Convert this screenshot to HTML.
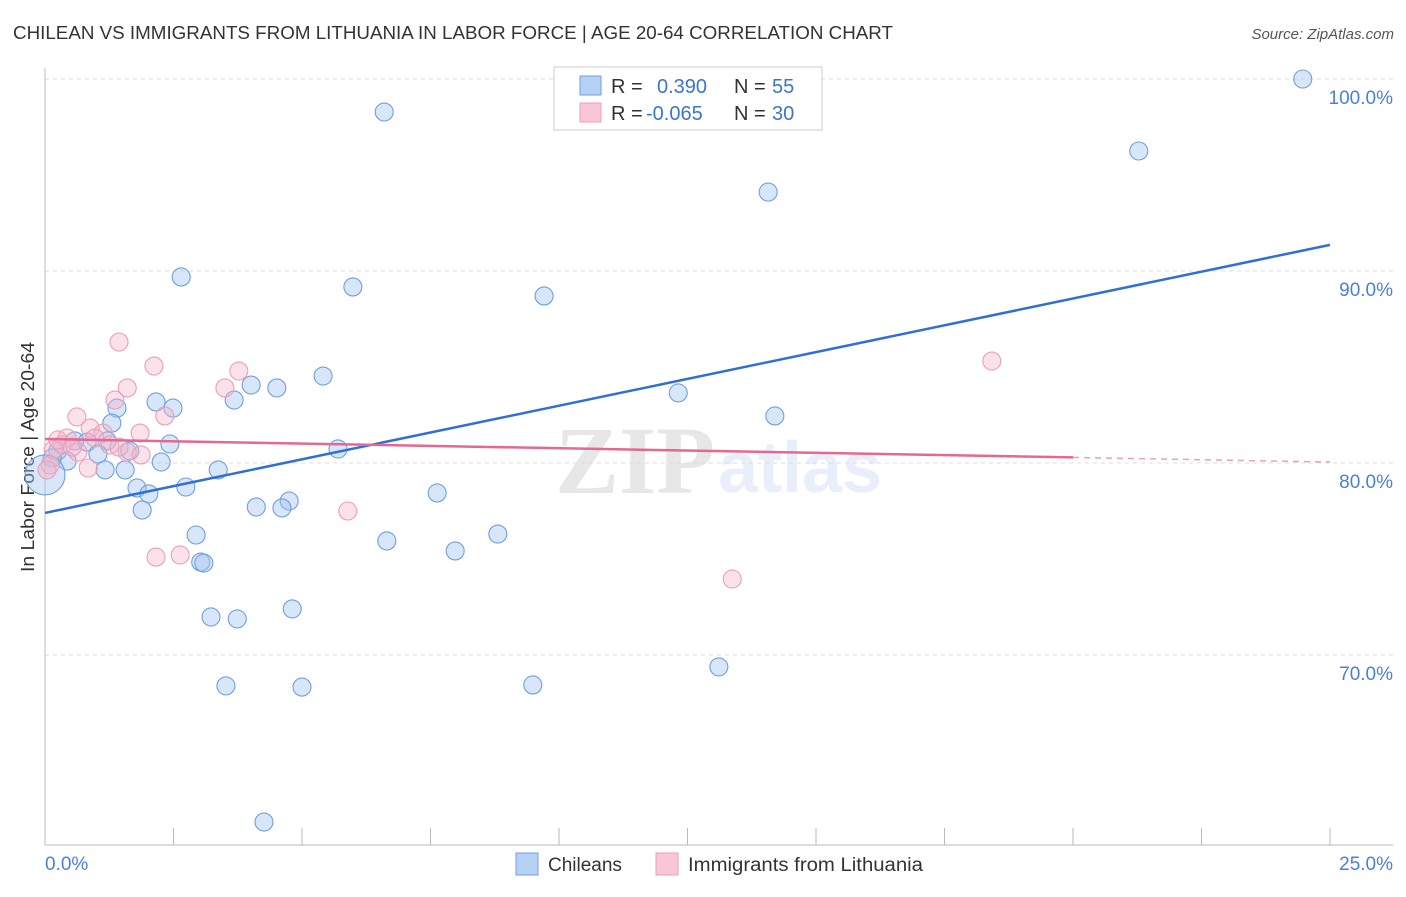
<!DOCTYPE html>
<html><head><meta charset="utf-8"><style>
body{margin:0;background:#fff;font-family:"Liberation Sans",sans-serif;}
</style></head><body>
<svg width="1406" height="892" xmlns="http://www.w3.org/2000/svg" style="font-family:'Liberation Sans',sans-serif">
<text x="13" y="39" font-size="18" fill="#333" textLength="880" lengthAdjust="spacingAndGlyphs">CHILEAN VS IMMIGRANTS FROM LITHUANIA IN LABOR FORCE | AGE 20-64 CORRELATION CHART</text>
<text x="1394" y="39" font-size="15" fill="#555" font-style="italic" text-anchor="end">Source: ZipAtlas.com</text>
<text x="555" y="493" font-size="96" font-family="'Liberation Serif',serif" font-weight="bold" fill="#000" opacity="0.09">ZIP</text>
<text x="718" y="492" font-size="72" fill="#4a80d8" opacity="0.12" font-weight="bold">atlas</text>
<g id="grid"></g>
<line x1="45" y1="68" x2="45" y2="845" stroke="#bbb"/>
<line x1="45" y1="845" x2="1393" y2="845" stroke="#bbb"/>
<text transform="translate(34,457) rotate(-90)" font-size="18" fill="#333" text-anchor="middle" textLength="230" lengthAdjust="spacingAndGlyphs">In Labor Force | Age 20-64</text>
<text x="45" y="870" font-size="19" fill="#4a80d8">0.0%</text>
<text x="1393" y="870" font-size="19" fill="#4a80d8" text-anchor="end">25.0%</text>
<g id="marks"></g>
<g>
<rect x="554" y="67" width="268" height="63" fill="#fff" stroke="#ccc"/>
<rect x="580" y="76" width="21" height="19" fill="#b7d1f4" stroke="#6f9fe0"/>
<rect x="580" y="103" width="21" height="19" fill="#f9c6d6" stroke="#eb9fb8"/>
<text x="611" y="93" font-size="20" fill="#333">R = <tspan fill="#3a74d4" x="657">0.390</tspan><tspan x="734">N = </tspan><tspan fill="#3a74d4" x="772">55</tspan></text>
<text x="611" y="120" font-size="20" fill="#333">R = <tspan fill="#3a74d4" x="646">-0.065</tspan><tspan x="734">N = </tspan><tspan fill="#3a74d4" x="772">30</tspan></text>
</g>
<g>
<rect x="516" y="853" width="22" height="22" fill="#b7d1f4" stroke="#6f9fe0"/>
<text x="548" y="871" font-size="19" fill="#333">Chileans</text>
<rect x="656" y="853" width="22" height="22" fill="#f9c6d6" stroke="#eb9fb8"/>
<text x="688" y="871" font-size="19" fill="#333" textLength="235" lengthAdjust="spacingAndGlyphs">Immigrants from Lithuania</text>
</g>
</svg>
<script>
const yTicks=[100,90,80,70];
const yTickLabels=["100.0%","90.0%","80.0%","70.0%"];
const xTickVals=[0,2.5,5,7.5,10,12.5,15,17.5,20,22.5,25];
const blueX=[24.47,6.60,21.28,14.07,2.65,5.99,9.71,5.41,4.01,4.51,12.32,3.68,2.16,1.40,2.49,14.20,1.30,2.43,5.70,0.58,0.82,1.21,0.25,1.03,1.65,0.43,0.14,2.26,1.17,1.56,3.37,1.79,2.74,2.02,7.63,4.75,4.11,4.61,1.89,2.94,6.65,8.81,7.98,3.03,3.09,4.81,3.23,3.74,13.11,3.52,5.00,9.49,4.26,0.0];
const blueY=[100.0,98.28,96.25,94.11,89.69,89.17,88.70,84.53,84.06,83.91,83.65,83.28,83.18,82.86,82.86,82.45,82.08,80.99,80.73,81.15,81.09,81.15,80.63,80.47,80.63,80.10,80.26,80.05,79.64,79.64,79.64,78.70,78.75,78.39,78.44,78.02,77.71,77.66,77.55,76.25,75.94,76.30,75.42,74.84,74.79,72.40,71.98,71.88,69.38,68.39,68.33,68.44,61.30,79.38];
const pinkX=[1.44,2.12,3.77,1.60,3.50,18.42,1.36,0.62,2.33,0.88,1.13,1.85,0.43,0.33,1.26,1.60,1.87,0.64,0.16,0.84,0.10,5.89,2.16,2.63,13.37,0.04,0.97,0.25,1.44,0.53];
const pinkY=[86.30,85.05,84.79,83.91,83.91,85.31,83.28,82.40,82.45,81.82,81.56,81.56,81.30,80.94,80.94,80.57,80.42,80.57,80.68,79.74,79.90,77.50,75.10,75.21,73.96,79.64,81.30,81.20,80.83,80.83];
const blueTrend=[77.40,91.36];
const pinkTrend=[81.25,80.05];
const pinkSolidEnd=20;
const xs=v=>45+v/25*1285;
const ys=v=>79+(100-v)*19.2;
const NS="http://www.w3.org/2000/svg";
function mk(t,a,p){const e=document.createElementNS(NS,t);for(const k in a)e.setAttribute(k,a[k]);p.appendChild(e);return e;}
const grid=document.getElementById('grid'),marks=document.getElementById('marks');
yTicks.forEach((v,i)=>{
 const l=mk('line',{x1:45,x2:1393,y1:ys(v),y2:ys(v),stroke:'#ddd','stroke-dasharray':'4,4'},grid);
 
 
 const t=mk('text',{x:1393,y:ys(v)+25,'font-size':19,fill:'#4a80d8','text-anchor':'end'},grid);
 t.textContent=yTickLabels[i];
 
 
});
xTickVals.forEach(v=>{
 const l=mk('line',{x1:xs(v),x2:xs(v),y1:828,y2:845,stroke:'#bbb'},grid);
 
 
});
blueX.forEach((x,i)=>{
 const big=(i===blueX.length-1);
 const c=mk('circle',{cx:xs(x),cy:ys(blueY[i]),r:big?20:9,fill:'rgba(160,196,240,0.42)',stroke:'#6f9fe0','stroke-width':1.1},marks);
 
 
});
pinkX.forEach((x,i)=>{
 const c=mk('circle',{cx:xs(x),cy:ys(pinkY[i]),r:9,fill:'rgba(245,180,200,0.38)',stroke:'#eb9fb8','stroke-width':1.1},marks);
 
 
});
const pAt=x=>pinkTrend[0]+(pinkTrend[1]-pinkTrend[0])*x/25;
const bl=mk('line',{x1:xs(0),y1:ys(blueTrend[0]),x2:xs(25),y2:ys(blueTrend[1]),stroke:'#2f6fd6','stroke-width':2.5},marks);


const pl=mk('line',{x1:xs(0),y1:ys(pinkTrend[0]),x2:xs(pinkSolidEnd),y2:ys(pAt(pinkSolidEnd)),stroke:'#e4688f','stroke-width':2.5},marks);


const pd=mk('line',{x1:xs(pinkSolidEnd),y1:ys(pAt(pinkSolidEnd)),x2:xs(25),y2:ys(pinkTrend[1]),stroke:'#eb9fb8','stroke-width':1.5,'stroke-dasharray':'6,5'},marks);


</script>
</body></html>
